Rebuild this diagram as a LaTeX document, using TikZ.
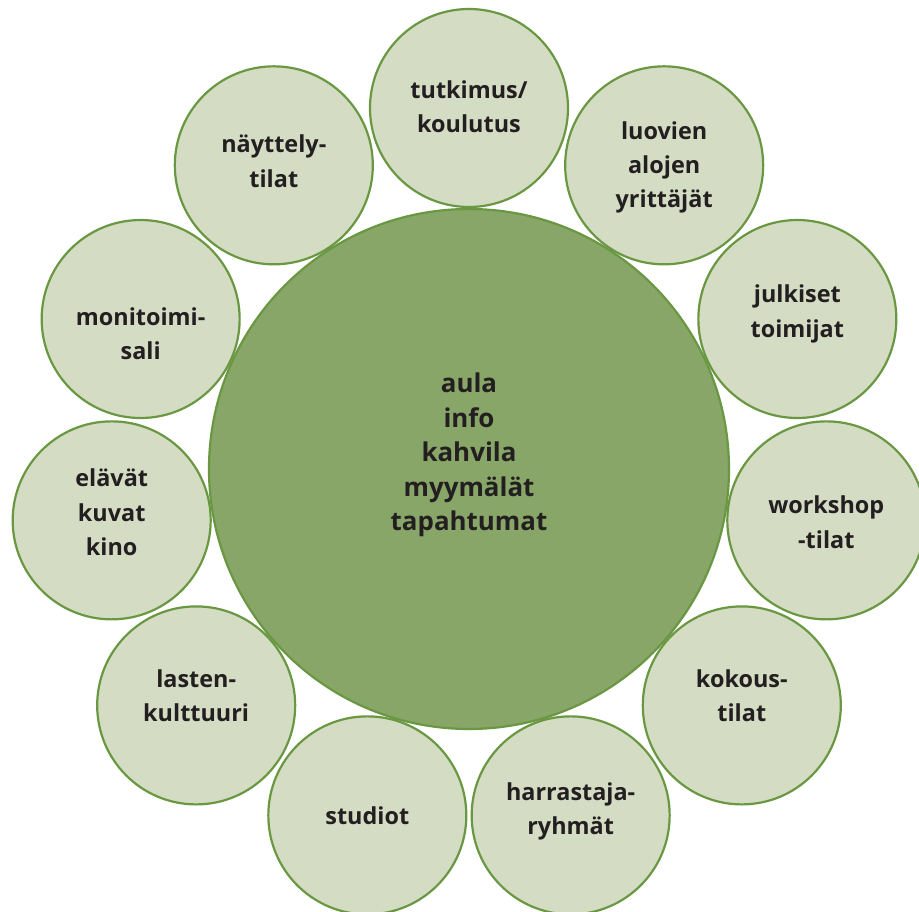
\documentclass[tikz,border=0pt]{standalone}
\usepackage{fontspec}
\setmainfont{Open Sans}
\definecolor{leafline}{RGB}{106,152,66}
\definecolor{leaflight}{RGB}{212,220,196}
\definecolor{leafdark}{RGB}{136,166,104}
\definecolor{ink}{RGB}{35,31,32}

\begin{document}
\begin{tikzpicture}[line width=2.2bp,
  bubble/.style={circle,draw=leafline,fill=leaflight,minimum size=198bp,inner sep=0pt},
  caption/.style={align=center,text=ink,inner sep=0pt,font=\bfseries\fontsize{23.5}{34.5}\selectfont},
  hub/.style={circle,draw=leafline,fill=leafdark,minimum size=520bp,inner sep=0pt},
  hubcaption/.style={align=center,text=ink,inner sep=0pt,font=\bfseries\fontsize{26}{34.5}\selectfont}]
\useasboundingbox (-469bp,469bp) rectangle (450bp,-443bp);
\node [hub,label={[hubcaption,yshift=14bp]center:{aula\\info\\kahvila\\myymälät\\tapahtumat}}] (aula) {};

\node [bubble,label={[caption,yshift=1bp]center:{tutkimus/\\koulutus}}] at (90:361bp) (tutkimus) {};
\node [bubble,label={[caption,yshift=-2bp]center:{luovien\\alojen\\yrittäjät}}] at (57.27:361bp) (luovat) {};
\node [bubble,label={[caption,yshift=5bp]center:{julkiset\\toimijat}}] at (24.55:361bp) (julkiset) {};
\node [bubble,label={[caption,yshift=-2bp]center:{workshop\\-tilat}}] at (-8.18:361bp) (workshop) {};
\node [bubble,label={[caption,yshift=10bp]center:{kokous-\\tilat}}] at (-40.91:361bp) (kokous) {};
\node [bubble,label={[caption,yshift=4bp]center:{harrastaja-\\ryhmät}}] at (-73.64:361bp) (harrastajat) {};
\node [bubble,label={[caption]center:{studiot}}] at (-106.36:361bp) (studiot) {};
\node [bubble,label={[caption,yshift=10bp]center:{lasten-\\kulttuuri}}] at (-139.09:361bp) (lasten) {};
\node [bubble,label={[caption,yshift=8bp]center:{elävät\\kuvat\\kino}}] at (-171.82:361bp) (kino) {};
\node [bubble,label={[caption,yshift=-15bp]center:{monitoimi-\\sali}}] at (155.45:361bp) (sali) {};
\node [bubble,label={[caption,yshift=4bp]center:{näyttely-\\tilat}}] at (122.73:361bp) (nayttely) {};
\end{tikzpicture}
\end{document}
